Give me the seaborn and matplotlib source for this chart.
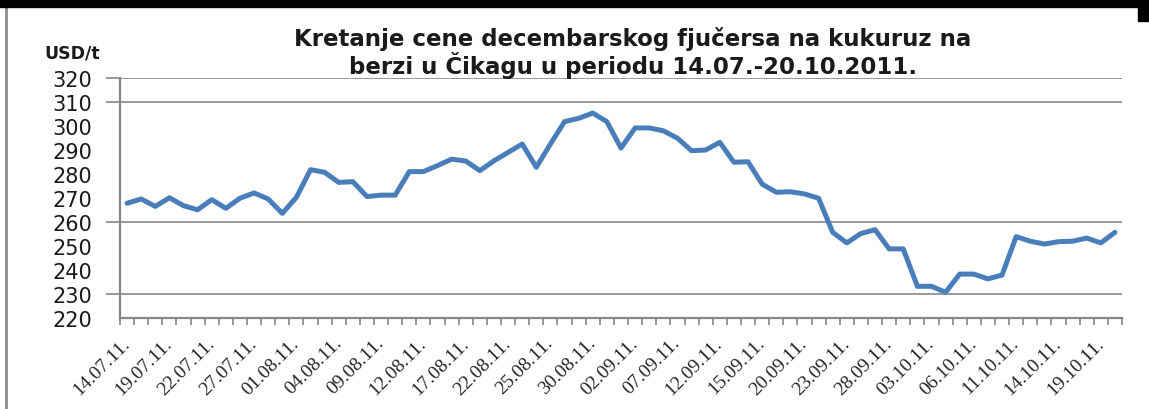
import pandas as pd
import numpy as np
import seaborn as sns
import matplotlib.pyplot as plt
from matplotlib.ticker import FixedLocator
from matplotlib.patches import Rectangle
from matplotlib.lines import Line2D

# trading days 14.07.2011 - 20.10.2011
dates = pd.bdate_range('2011-07-14', '2011-10-20')
labels = [d.strftime('%d.%m.%y.') for d in dates]

# December corn futures, USD/t
price = [267.8, 269.6, 266.5, 270.1, 266.8, 265.1, 269.3, 265.7, 269.9, 272.1,
         269.6, 263.6, 270.3, 281.8, 280.7, 276.5, 276.8, 270.6, 271.2, 271.2,
         281.0, 281.0, 283.5, 286.2, 285.4, 281.4, 285.5, 289.0, 292.5, 282.8,
         292.5, 301.8, 303.2, 305.4, 301.8, 290.8, 299.2, 299.2, 298.0, 294.9,
         289.7, 290.0, 293.2, 284.9, 285.1, 275.8, 272.4, 272.6, 271.7, 269.9,
         255.7, 251.3, 255.2, 256.8, 248.8, 248.8, 233.2, 233.2, 230.7, 238.3,
         238.3, 236.3, 237.9, 253.9, 252.0, 250.8, 251.8, 252.0, 253.3, 251.3,
         255.7]

yticks = list(range(220, 330, 10))
grid_lines = [230, 260, 310, 320]   # only these survive in the original image
label_step = 3

df = pd.DataFrame({'datum': labels, 'cena': price})

sns.set_style('white')
plt.rcParams['font.family'] = ['DejaVu Sans']

fig = plt.figure(figsize=(11.49, 4.10), dpi=100)
ax = fig.add_axes([120 / 1149, 1 - 319 / 410, 1002 / 1149, 240 / 410])

sns.lineplot(data=df, x='datum', y='cena', ax=ax, color='#4A7EBB', linewidth=3.6,
             sort=False)

grey = '#868686'
ax.set_xlim(-0.5, len(price) - 0.5)
ax.set_ylim(220, 320)
ax.set_xlabel('')
ax.set_ylabel('')

# y axis
ax.set_yticks(yticks)
ax.yaxis.remove_overlapping_locs = False
ax.yaxis.set_minor_locator(FixedLocator(grid_lines))
ax.tick_params(axis='y', which='major', left=False, length=0, pad=20, labelsize=15,
               labelcolor='#1a1a1a')
ax.tick_params(axis='y', which='minor', left=True, length=10, width=1.2, color=grey,
               direction='out')
ax.grid(False)
ax.grid(which='minor', axis='y', color=grey, linewidth=1.2)

# x axis: tick mark on each category border, label every 3rd day
pos = np.arange(len(price))
ax.set_xticks(pos[::label_step])
ax.set_xticklabels(labels[::label_step], rotation=45, ha='right', va='center',
                   rotation_mode='anchor', family='Liberation Serif', fontsize=14)
ax.xaxis.set_minor_locator(FixedLocator(np.arange(-0.5, len(price), 1)))
ax.tick_params(axis='x', which='major', bottom=False, length=0, pad=16)
ax.tick_params(axis='x', which='minor', bottom=True, length=5, width=1.2, color=grey,
               direction='out')

for side in ['top', 'right']:
    ax.spines[side].set_visible(False)
for side in ['left', 'bottom']:
    ax.spines[side].set_color(grey)
    ax.spines[side].set_linewidth(1.6)

fig.text(633 / 1149, 1 - 53 / 410,
         'Kretanje cene decembarskog fjučersa na kukuruz na\n'
         'berzi u Čikagu u periodu 14.07.-20.10.2011.',
         ha='center', va='center', fontsize=16.5, fontweight='bold',
         linespacing=1.05, color='#1a1a1a')
fig.text(72 / 1149, 1 - 53 / 410, 'USD/t', ha='center', va='center',
         fontsize=12.5, fontweight='bold', color='#1a1a1a')

# frame remnants of the original screenshot
fig.patches.append(Rectangle((0, 1 - 8 / 410), 1, 8 / 410, transform=fig.transFigure,
                             color='black', zorder=5))
fig.patches.append(Rectangle((1138 / 1149, 1 - 22 / 410), 11 / 1149, 22 / 410,
                             transform=fig.transFigure, color='black', zorder=5))
fig.lines.append(Line2D([6 / 1149, 6 / 1149], [0, 1], transform=fig.transFigure,
                        color='#8c8c8c', linewidth=2))

fig.savefig('out.png', dpi=100)
